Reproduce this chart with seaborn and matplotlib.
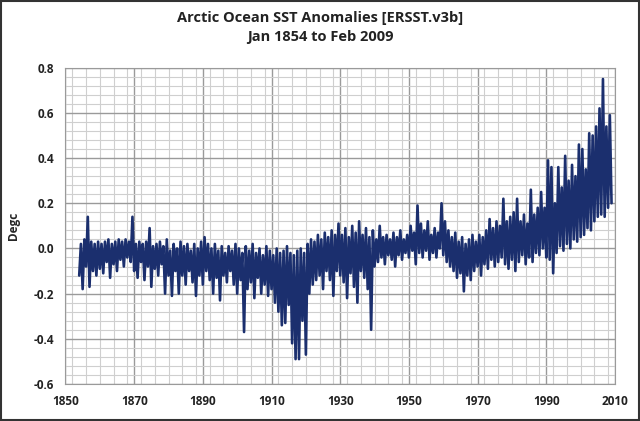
import numpy as np
import pandas as pd
import matplotlib
matplotlib.use("Agg")
import matplotlib.pyplot as plt
import seaborn as sns
from matplotlib.ticker import MultipleLocator

# Arctic Ocean SST anomalies: two values per year (early / mid year)
anom = [
    # 1854-1863
    -0.12, 0.02, -0.18, 0.04, -0.08, 0.14, -0.17, 0.03, -0.10, 0.02,
    -0.12, 0.03, -0.09, 0.02, -0.11, 0.03, -0.06, 0.04, -0.13, 0.02,
    # 1864-1873
    -0.07, 0.03, -0.10, 0.04, -0.05, 0.03, -0.08, 0.04, -0.04, 0.03,
    -0.06, 0.14, -0.10, 0.02, -0.13, 0.03, -0.06, 0.02, -0.14, 0.03,
    # 1874-1883
    -0.08, 0.09, -0.17, 0.01, -0.09, 0.02, -0.12, 0.03, -0.07, 0.01,
    -0.20, 0.04, -0.12, -0.01, -0.21, 0.02, -0.10, 0.00, -0.20, 0.03,
    # 1884-1893
    -0.12, 0.01, -0.16, 0.02, -0.10, -0.01, -0.15, 0.02, -0.21, 0.00,
    -0.12, 0.03, -0.16, 0.05, -0.10, 0.02, -0.14, 0.00, -0.20, 0.02,
    # 1894-1903
    -0.13, -0.01, -0.23, 0.01, -0.12, -0.02, -0.15, 0.01, -0.10, -0.01,
    -0.16, 0.02, -0.20, 0.00, -0.14, -0.02, -0.37, 0.01, -0.18, -0.01,
    # 1904-1913
    -0.15, 0.02, -0.22, -0.02, -0.13, 0.00, -0.20, -0.03, -0.16, 0.01,
    -0.21, -0.01, -0.18, -0.03, -0.24, 0.00, -0.28, -0.02, -0.34, -0.01,
    # 1914-1923
    -0.33, 0.01, -0.25, -0.02, -0.42, -0.03, -0.49, -0.01, -0.49, 0.00,
    -0.32, -0.02, -0.47, 0.02, -0.20, 0.04, -0.16, 0.03, -0.14, 0.06,
    # 1924-1933
    -0.12, 0.04, -0.18, 0.07, -0.10, 0.05, -0.14, 0.08, -0.21, 0.06,
    -0.10, 0.11, -0.12, 0.06, -0.15, 0.09, -0.22, 0.05, -0.11, 0.10,
    # 1934-1943
    -0.17, 0.07, -0.24, 0.12, -0.10, 0.06, -0.13, 0.09, -0.18, 0.05,
    -0.36, 0.08, -0.08, 0.04, -0.06, 0.10, -0.04, 0.05, -0.07, 0.06,
    # 1944-1953
    -0.03, 0.04, -0.05, 0.07, -0.08, 0.05, -0.03, 0.08, -0.05, 0.04,
    -0.02, 0.06, -0.04, 0.10, -0.01, 0.07, -0.07, 0.19, -0.02, 0.11,
    # 1954-1963
    -0.04, 0.08, -0.01, 0.12, -0.05, 0.06, -0.02, 0.09, -0.04, 0.07,
    0.00, 0.20, -0.03, 0.12, -0.06, 0.08, -0.08, 0.05, -0.10, 0.07,
    # 1964-1973
    -0.13, 0.03, -0.11, 0.05, -0.19, 0.02, -0.12, 0.04, -0.14, 0.06,
    -0.10, 0.03, -0.08, 0.06, -0.12, 0.05, -0.07, 0.08, -0.09, 0.13,
    # 1974-1983
    -0.05, 0.09, -0.08, 0.12, -0.06, 0.10, -0.04, 0.22, -0.07, 0.12,
    -0.09, 0.14, -0.05, 0.16, -0.10, 0.22, -0.06, 0.12, -0.03, 0.15,
    # 1984-1993
    -0.07, 0.11, -0.04, 0.26, -0.06, 0.15, -0.02, 0.18, -0.03, 0.25,
    0.00, 0.18, -0.04, 0.39, -0.05, 0.36, -0.11, 0.20, -0.02, 0.36,
    # 1994-2003
    0.01, 0.27, -0.01, 0.41, 0.02, 0.30, 0.00, 0.37, 0.04, 0.32,
    0.03, 0.46, 0.05, 0.44, 0.06, 0.35, 0.09, 0.51, 0.08, 0.50,
    # 2004-2008, then Jan/Feb 2009
    0.12, 0.54, 0.14, 0.62, 0.15, 0.75, 0.14, 0.54, 0.18, 0.59,
    0.20,
]
years = 1854 + 0.5 * np.arange(len(anom))

df = pd.DataFrame({"year": years, "anom": anom})

title = "Arctic Ocean SST Anomalies [ERSST.v3b]\nJan 1854 to Feb 2009"
x_ticks = [1850, 1870, 1890, 1910, 1930, 1950, 1970, 1990, 2010]
y_ticks = [-0.6, -0.4, -0.2, 0.0, 0.2, 0.4, 0.6, 0.8]

sns.set_style("white")
plt.rcParams["font.family"] = ["Open Sans", "DejaVu Sans"]

fig = plt.figure(figsize=(6.4, 4.21), dpi=100)
ax = fig.add_axes([0.1023, 0.0879, 0.8586, 0.7513])

sns.lineplot(data=df, x="year", y="anom", ax=ax, color="#1b2f6e", linewidth=1.9)

ax.set_xlim(1850, 2010)
ax.set_ylim(-0.6, 0.8)
ax.set_xticks(x_ticks)
ax.set_yticks(y_ticks)
ax.set_yticklabels([f"{v:.1f}" for v in y_ticks])
ax.xaxis.set_minor_locator(MultipleLocator(4))
ax.yaxis.set_minor_locator(MultipleLocator(0.04))
ax.grid(which="major", color="#9a9a9a", linewidth=1.0)
ax.grid(which="minor", color="#cfcfcf", linewidth=0.8)
ax.set_axisbelow(True)
ax.tick_params(which="both", length=0, labelsize=8.5, pad=8)
for lab in ax.get_xticklabels() + ax.get_yticklabels():
    lab.set_fontweight("bold")
    lab.set_color("#222222")
for s in ax.spines.values():
    s.set_color("#9a9a9a")

ax.set_xlabel("")
ax.set_ylabel("Degc", fontsize=8.5, fontweight="bold", labelpad=10)
fig.suptitle(title, y=0.975, fontsize=10.5, fontweight="bold", linespacing=1.5,
             color="#222222")

fig.patches.append(plt.Rectangle((0.002, 0.002), 0.996, 0.995, transform=fig.transFigure,
                                 fill=False, edgecolor="#333333", linewidth=1.5))

fig.savefig("out.png", dpi=100)
